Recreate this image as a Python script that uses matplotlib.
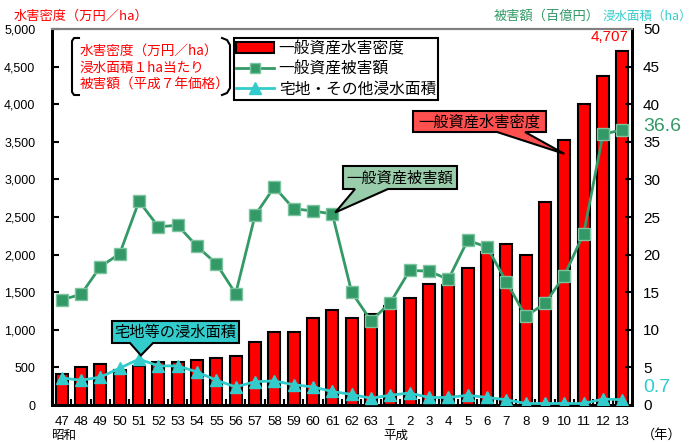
import matplotlib
matplotlib.use("Agg")
import matplotlib.pyplot as plt
from matplotlib.patches import Polygon
from matplotlib.lines import Line2D
from matplotlib.patches import Patch
import numpy as np

plt.rcParams['font.family'] = ['Liberation Sans', 'Noto Sans CJK JP', 'DejaVu Sans']

# ---------------- data ----------------
years = ['47', '48', '49', '50', '51', '52', '53', '54', '55', '56', '57', '58', '59', '60',
         '61', '62', '63', '1', '2', '3', '4', '5', '6', '7', '8', '9', '10', '11', '12', '13']
density = [410, 510, 540, 470, 520, 570, 570, 600, 620, 650, 840, 970, 970, 1160, 1260,
           1160, 1210, 1320, 1420, 1610, 1590, 1820, 2040, 2140, 1990, 2700, 3520, 4000, 4380, 4707]
damage = [14.0, 14.7, 18.4, 20.1, 27.1, 23.7, 23.9, 21.1, 18.8, 14.8, 25.2, 29.0, 26.1, 25.8, 25.4,
          15.0, 11.2, 13.6, 17.9, 17.8, 16.7, 21.9, 21.0, 16.4, 11.8, 13.5, 17.2, 22.8, 36.0, 36.6]
area = [3.6, 3.3, 3.7, 4.9, 6.1, 5.2, 5.2, 4.4, 3.3, 2.4, 3.1, 3.2, 2.7, 2.4, 1.8,
        1.4, 0.9, 1.3, 1.6, 1.0, 1.0, 1.3, 1.0, 0.7, 0.2, 0.2, 0.2, 0.2, 0.8, 0.7]
left_ticks = [0, 500, 1000, 1500, 2000, 2500, 3000, 3500, 4000, 4500, 5000]
right_ticks = [0, 5, 10, 15, 20, 25, 30, 35, 40, 45, 50]

RED = '#FF0000'
GREEN = '#339966'
CYAN = '#33CCCC'

W, H = 695, 443
fig = plt.figure(figsize=(W / 100, H / 100), dpi=100)
fig.subplots_adjust(left=52 / W, right=632 / W, bottom=1 - 405 / H, top=1 - 29 / H)
ax = fig.add_subplot(111)
ax2 = ax.twinx()


def F(x, y):
    return (x / W, 1 - y / H)


x = np.arange(len(years))
ax.bar(x, density, width=0.62, color=RED, edgecolor='black', linewidth=1.5, zorder=2)
ax.set_xlim(-0.5, len(years) - 0.5)
ax.set_ylim(0, 5000)
ax.set_yticks(left_ticks)
ax.set_yticklabels([f'{v:,}' for v in left_ticks], fontsize=9)
ax.set_xticks(x)
ax.set_xticklabels(years, fontsize=9.5)
ax.set_xticks(np.arange(-0.5, len(years), 1.0), minor=True)
ax.tick_params(axis='x', which='major', length=0, pad=8)
ax.tick_params(axis='x', which='minor', direction='in', length=4, width=1.5)
ax.tick_params(axis='y', direction='in', length=5, width=1.5, pad=12)

ax2.plot(x, damage, color=GREEN, linewidth=2, marker='s', markersize=8,
         markerfacecolor=GREEN, markeredgecolor='#7CC4A0', markeredgewidth=1, zorder=3)
ax2.plot(x, area, color=CYAN, linewidth=2, marker='^', markersize=9,
         markerfacecolor=CYAN, markeredgecolor=CYAN, zorder=3)
ax2.set_ylim(0, 50)
ax2.set_yticks(right_ticks)
ax2.set_yticklabels([str(v) for v in right_ticks], fontsize=11)
ax2.tick_params(axis='y', direction='in', length=5, width=1.5, pad=8)

for a in (ax, ax2):
    for s in ('left', 'bottom', 'right'):
        a.spines[s].set_linewidth(2)
        a.spines[s].set_color('black')
    a.spines['top'].set_color('#808080')
    a.spines['top'].set_linewidth(1.5)

jp = ['Noto Sans CJK JP']
# era labels
bt = ax.get_xaxis_transform()
ax.text(x[0] + 0.1, -0.098, '昭和', transform=bt, ha='center', va='bottom', fontsize=9, family=jp)
ax.text(x[17] + 0.3, -0.098, '平成', transform=bt, ha='center', va='bottom', fontsize=9, family=jp)
fig.text(*F(662, 442), '（年）', ha='center', va='bottom', fontsize=9.5, family=jp)

# value labels
ax.annotate(f'{density[-1]:,}', xy=(x[-1], density[-1]), xytext=(-9, 5), textcoords='offset points',
            ha='center', va='bottom', color=RED, fontsize=11)
ax2.annotate(f'{damage[-1]}', xy=(1, damage[-1]), xycoords=('axes fraction', 'data'),
             xytext=(8, 2), textcoords='offset points', ha='left', va='center', color=GREEN, fontsize=14)
ax2.annotate(f'{area[-1]}', xy=(1, area[-1]), xycoords=('axes fraction', 'data'),
             xytext=(8, 9), textcoords='offset points', ha='left', va='center', color=CYAN, fontsize=14)

# axis titles
fig.text(*F(14, 16), '水害密度（万円／ha）', ha='left', va='center', color=RED, fontsize=9.5, family=jp)
fig.text(*F(494, 16), '被害額（百億円）', ha='left', va='center', color=GREEN, fontsize=9.5, family=jp)
fig.text(*F(603, 16), '浸水面積（ha）', ha='left', va='center', color=CYAN, fontsize=9, family=jp)

# bracket note
for i, t in enumerate(['水害密度（万円／ha）', '浸水面積１ha当たり', '被害額（平成７年価格）']):
    fig.text(*F(80, 51 + i * 16.5), t, ha='left', va='center', color=RED, fontsize=9.8, family=jp)
lb = [F(79, 38), F(74, 38), F(72, 41), F(72, 92), F(74, 95), F(79, 95)]
rb = [F(222, 38), F(227, 40), F(230, 45), F(230, 88), F(227, 93), F(222, 95)]
for pts in (lb, rb):
    fig.add_artist(Line2D([p[0] for p in pts], [p[1] for p in pts], color='black', lw=1.5,
                          transform=fig.transFigure))

# legend
handles = [Patch(facecolor=RED, edgecolor='black', linewidth=1.5),
           Line2D([], [], color=GREEN, lw=2, marker='s', markersize=7, markerfacecolor=GREEN,
                  markeredgecolor='#7CC4A0'),
           Line2D([], [], color=CYAN, lw=2, marker='^', markersize=9, markerfacecolor=CYAN,
                  markeredgecolor=CYAN)]
labels = ['一般資産水害密度', '一般資産被害額', '宅地・その他浸水面積']
leg = fig.legend(handles, labels, loc='upper left', bbox_to_anchor=F(234, 38),
                 bbox_transform=fig.transFigure, frameon=True, fancybox=False, edgecolor='black',
                 framealpha=1, borderaxespad=0, borderpad=0.15, handlelength=2.4, handletextpad=0.3,
                 labelspacing=0.2, prop={'family': jp, 'size': 11.3})
leg.get_frame().set_linewidth(1.5)


# callouts
def callout(text, box, base, tip_disp, fc):
    x0, y0, x1, y1 = box
    xa, xb = base
    tip = fig.transFigure.inverted().transform(tip_disp)
    verts = [F(x0, y0), F(x1, y0), F(x1, y1), F(xb, y1), tuple(tip), F(xa, y1), F(x0, y1)]
    fig.add_artist(Polygon(verts, closed=True, facecolor=fc, edgecolor='black', lw=1.5,
                           transform=fig.transFigure, zorder=4))
    fig.text(*F((x0 + x1) / 2, (y0 + y1) / 2 + 0.5), text, ha='center', va='center',
             fontsize=11, family=jp, zorder=5)


callout('一般資産水害密度', (413, 111, 546, 132), (497, 525),
        ax.transData.transform((x[26], 3340)), '#FF5050')
callout('一般資産被害額', (343, 166, 457, 189), (355, 388),
        ax2.transData.transform((x[14] + 0.15, damage[14] + 0.2)), '#99CCAA')
callout('宅地等の浸水面積', (112, 321, 239, 343), (130, 153),
        ax2.transData.transform((x[4] + 0.1, area[4] + 0.5)), CYAN)

fig.savefig('out.png', dpi=100)
